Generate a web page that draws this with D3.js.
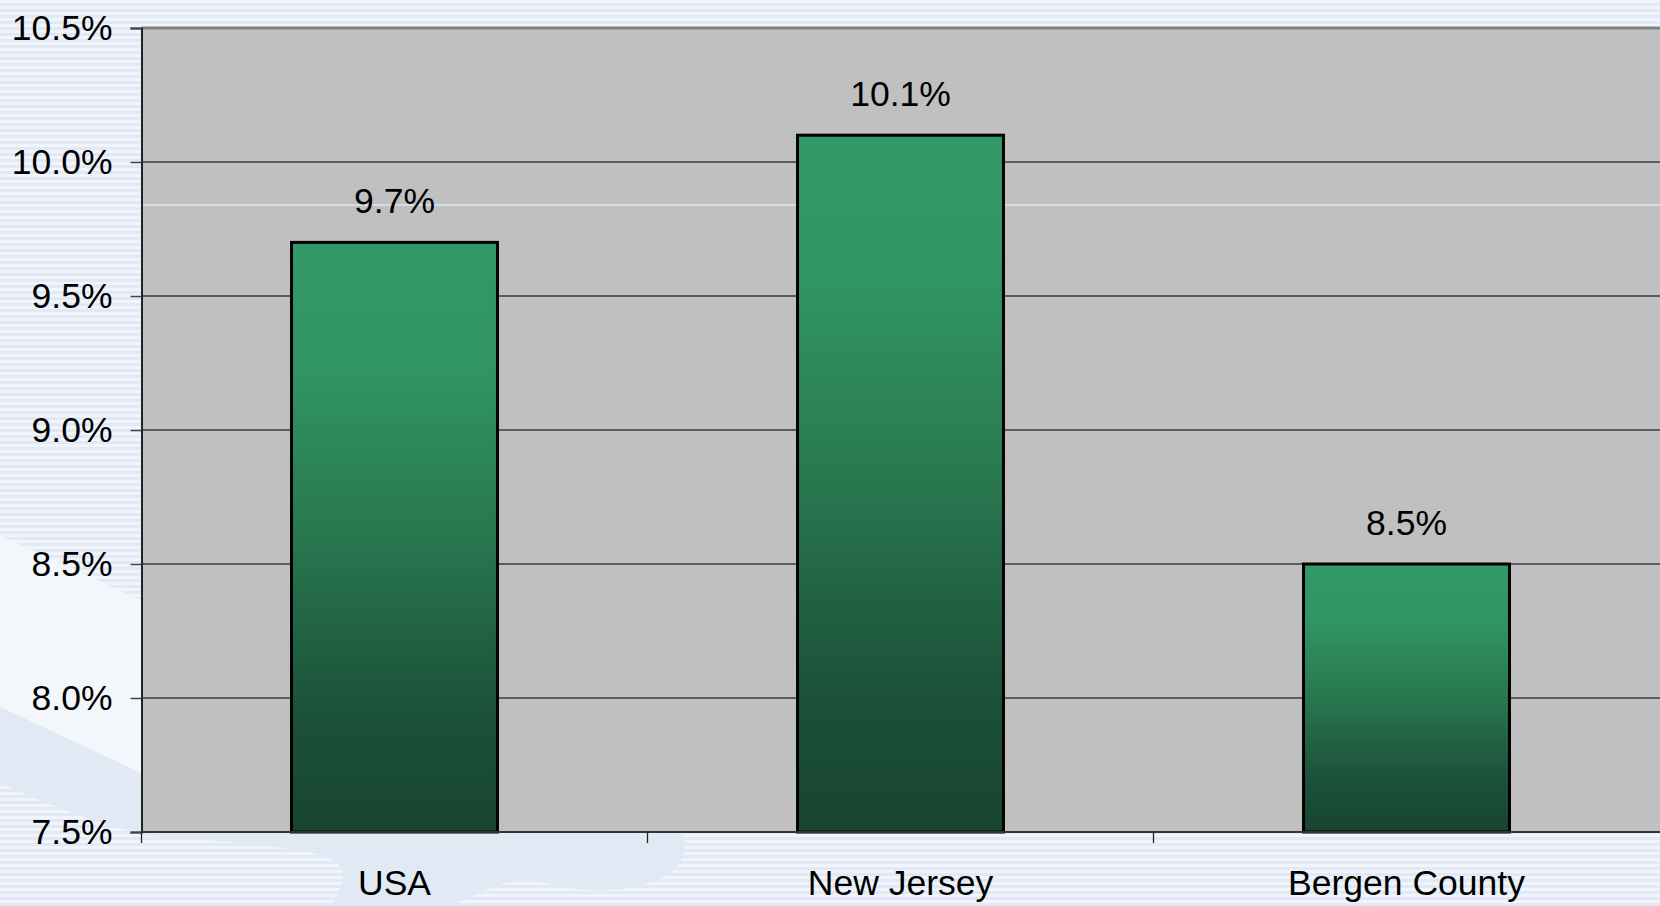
<!DOCTYPE html>
<html>
<head>
<meta charset="utf-8">
<script src="https://cdn.jsdelivr.net/npm/d3@7"></script>
<style>
  html, body { margin: 0; padding: 0; overflow: hidden; background: #eaf0f8; }
  svg { display: block; }
  text { font-family: "Liberation Sans", Arial, sans-serif; fill: #000; }
</style>
</head>
<body>
<svg id="chart" width="1660" height="906"></svg>
<script>
// ---- data ----
const categories = ["USA", "New Jersey", "Bergen County"];
const values = [9.7, 10.1, 8.5];
const yTicks = [7.5, 8.0, 8.5, 9.0, 9.5, 10.0, 10.5];
const yTickLabels = ["7.5%", "8.0%", "8.5%", "9.0%", "9.5%", "10.0%", "10.5%"];
const valueLabels = ["9.7%", "10.1%", "8.5%"];

// ---- layout ----
const W = 1660, H = 906;
const plot = { left: 141.5, right: 1659.5, top: 28, bottom: 832 };

const svg = d3.select("#chart");
const defs = svg.append("defs");

// background stripes
const pat = defs.append("pattern").attr("id", "stripes")
  .attr("patternUnits", "userSpaceOnUse").attr("width", 8).attr("height", 6);
pat.append("rect").attr("width", 8).attr("height", 6).attr("fill", "#f1f5fb");
pat.append("rect").attr("y", 3).attr("width", 8).attr("height", 3).attr("fill", "#e0e9f4");

// bar gradient
const grad = defs.append("linearGradient").attr("id", "barGrad")
  .attr("x1", 0).attr("y1", 0).attr("x2", 0).attr("y2", 1);
[[0, "#339968"], [0.22, "#319465"], [0.5, "#29774f"], [0.8, "#1c513a"], [1, "#184530"]]
  .forEach(([o, c]) => grad.append("stop").attr("offset", o).attr("stop-color", c));

svg.append("rect").attr("width", W).attr("height", H).attr("fill", "url(#stripes)");

// decorative background shapes (slide template)
svg.append("path").attr("fill", "#f3f6fb")
  .attr("d", "M0,535 L141,600 L141,773 L0,707 Z");
svg.append("path").attr("fill", "#e1eaf4")
  .attr("d", "M0,707 L141,773 L141,834 C100,825 50,805 0,783 Z");
svg.append("path").attr("fill", "#e1eaf4")
  .attr("d", "M141,832 L682,832 C692,862 672,885 612,890 C565,893 545,880 522,880 C485,884 462,906 442,906 L332,906 C342,882 362,862 302,851 C252,843 202,839 141,836 Z");

// scales
const x = d3.scaleBand().domain(categories).range([plot.left, plot.right]).paddingInner(0).paddingOuter(0);
const y = d3.scaleLinear().domain([7.5, 10.5]).range([plot.bottom, plot.top]);
const barW = x.bandwidth() * 0.407;

// plot area
svg.append("rect")
  .attr("x", plot.left).attr("y", plot.top)
  .attr("width", W - plot.left).attr("height", plot.bottom - plot.top)
  .attr("fill", "#c0c0c0");

// light background line showing through
svg.append("line")
  .attr("x1", plot.left).attr("x2", W).attr("y1", 205).attr("y2", 205)
  .attr("stroke", "#dfe7f1").attr("stroke-width", 1.5);

// gridlines
svg.append("g").selectAll("line")
  .data(yTicks.filter(t => t > 7.5 && t < 10.5))
  .join("line")
  .attr("x1", plot.left).attr("x2", W)
  .attr("y1", d => y(d)).attr("y2", d => y(d))
  .attr("stroke", "#3c3c3c").attr("stroke-width", 1.3);

// top border
svg.append("line")
  .attr("x1", plot.left).attr("x2", W).attr("y1", y(10.5)).attr("y2", y(10.5))
  .attr("stroke", "#808080").attr("stroke-width", 3);

// y axis
const yAxis = d3.axisLeft(y)
  .tickValues(yTicks)
  .tickFormat((d, i) => yTickLabels[i])
  .tickSize(11).tickPadding(18);
const gy = svg.append("g").attr("transform", `translate(${plot.left},0)`).call(yAxis);
gy.select(".domain").attr("stroke", "#222").attr("stroke-width", 2);
gy.selectAll(".tick line").attr("stroke", "#444").attr("stroke-width", 1.5);
gy.selectAll(".tick text")
  .attr("font-size", 35.5)
  .attr("font-family", '"Liberation Sans", Arial, sans-serif')
  .attr("fill", "#000")
  .attr("dy", "0.32em");

// bars
svg.append("g").selectAll("rect")
  .data(categories)
  .join("rect")
  .attr("x", d => x(d) + (x.bandwidth() - barW) / 2)
  .attr("y", (d, i) => y(values[i]))
  .attr("width", barW)
  .attr("height", (d, i) => y(7.5) - y(values[i]))
  .attr("fill", "url(#barGrad)")
  .attr("stroke", "#000").attr("stroke-width", 3);

// x axis line + ticks
svg.append("line")
  .attr("x1", plot.left).attr("x2", W).attr("y1", plot.bottom).attr("y2", plot.bottom)
  .attr("stroke", "#333").attr("stroke-width", 2);
svg.append("g").selectAll("line")
  .data(categories)
  .join("line")
  .attr("x1", d => x(d)).attr("x2", d => x(d))
  .attr("y1", plot.bottom).attr("y2", plot.bottom + 11)
  .attr("stroke", "#222").attr("stroke-width", 1.3);

// category labels
svg.append("g").selectAll("text")
  .data(categories)
  .join("text")
  .attr("x", d => x(d) + x.bandwidth() / 2)
  .attr("y", 895)
  .attr("text-anchor", "middle")
  .attr("font-size", 35.5)
  .text(d => d);

// value labels
svg.append("g").selectAll("text")
  .data(categories)
  .join("text")
  .attr("x", d => x(d) + x.bandwidth() / 2)
  .attr("y", (d, i) => y(values[i]) - 29)
  .attr("text-anchor", "middle")
  .attr("font-size", 35.5)
  .text((d, i) => valueLabels[i]);
</script>
</body>
</html>
